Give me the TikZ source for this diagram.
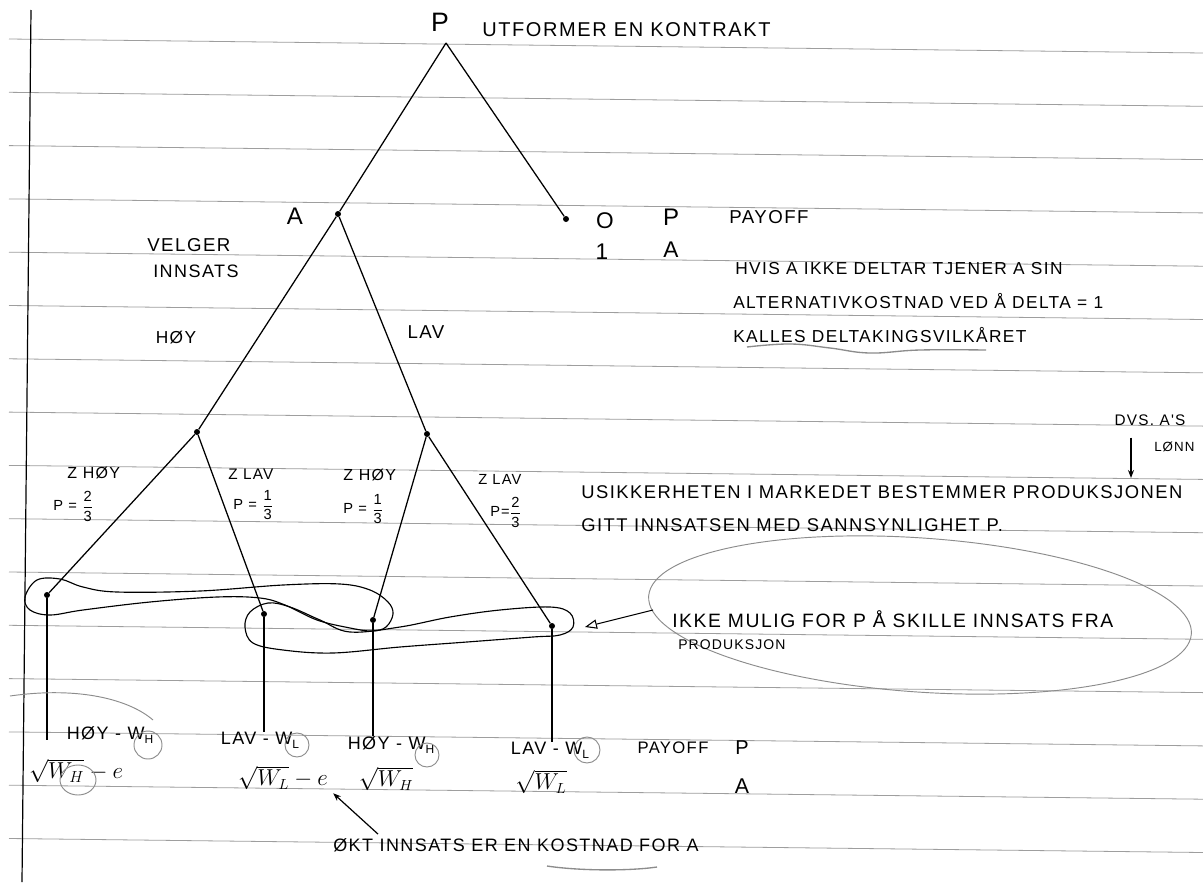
\documentclass[tikz,border=0pt]{standalone}
\usepackage{amsmath}
\usepackage{amssymb}
\usepackage{xcolor}
\usepackage{fontspec}
\usepackage{tikz}
\usetikzlibrary{arrows.meta}
\newfontfamily\hand[LetterSpace=8]{Liberation Sans}
\definecolor{pencil}{gray}{0.55}
\definecolor{ruling}{gray}{0.62}
\newcommand{\lowidx}[1]{\smash{\raisebox{-0.45ex}{\small #1}}}
\newcommand{\hfrac}[2]{$\genfrac{}{}{0.5pt}{0}{\text{#1}}{\text{#2}}$}
\tikzset{
    handtext/.style={inner sep=0pt, font=\hand\fontsize{#1}{#1}\selectfont},
    mathtext/.style={inner sep=0pt, font=\fontsize{#1}{#1}\selectfont},
    gamenode/.style={circle, fill=black, inner sep=0pt, minimum size=4.5pt},
    branch/.style={line width=0.95pt},
    ruleline/.style={draw=ruling, line width=0.6pt},
    pencilline/.style={draw=pencil, line width=0.7pt},
    infoset/.style={line width=0.85pt},
    pointer/.style={line width=0.9pt, -{Stealth[length=6pt, width=4.5pt]}},
    openpointer/.style={line width=0.8pt, -{Triangle[open, length=9pt, width=7pt]}}
}

\begin{document}
\begin{tikzpicture}[x=0.75pt, y=-0.75pt]
            \useasboundingbox (0,0) rectangle (1203,882);
            \fill [white] (0,0) rectangle (1203,882);
            \foreach \i in {0,...,15}
                \draw [ruleline] (9,39+53.3*\i) -- (1203,53+53.3*\i);
            \draw [line width=0.9pt] (31,10) -- (22,882);

            \coordinate (p) at (446,43);
            \node [gamenode] (a) at (338,214) {};
            \node [gamenode] (o) at (566,219) {};
            \node [gamenode] (zh) at (197,432) {};
            \node [gamenode] (zl) at (427,434) {};
            \node [gamenode] (t1) at (47,595) {};
            \node [gamenode] (t2) at (264,614) {};
            \node [gamenode] (t3) at (373,620) {};
            \node [gamenode] (t4) at (552,626) {};
            \draw [branch] (p) -- (a);
            \draw [branch] (p) -- (o);
            \draw [branch] (a) -- (zh);
            \draw [branch] (a) -- (zl);
            \draw [branch] (zh) -- (t1);
            \draw [branch] (zh) -- (t2);
            \draw [branch] (zl) -- (t3);
            \draw [branch] (zl) -- (t4);

            \node [handtext=20] (plab) at (440,22) {P};
            \node [handtext=15, right] (utf) at (482,30) {UTFORMER EN KONTRAKT};
            \node [handtext=18] (alab) at (295,216) {A};
            \node [handtext=14, right] (velger) at (147,245) {VELGER};
            \node [handtext=13.5, right] (innsats) at (153,271) {INNSATS};
            \node [handtext=13] (hoy) at (176,338) {HØY};
            \node [handtext=14] (lav) at (426,332) {LAV};

            \node [handtext=17] (ozero) at (605,221) {O};
            \node [handtext=17] (oone) at (602,252) {1};
            \node [handtext=18] (tp) at (671,217) {P};
            \node [handtext=17] (ta) at (671,250) {A};
            \node [handtext=14, right] (tpay) at (729,217) {PAYOFF};
            \node [handtext=13, right] (hvis) at (735,269) {HVIS A IKKE DELTAR TJENER A SIN};
            \node [handtext=13, right] (alt) at (733,301) {ALTERNATIVKOSTNAD VED Å DELTA = 1};
            \node [handtext=13, right] (kalles) at (733,335) {KALLES DELTAKINGSVILKÅRET};
            \draw [pencilline, line width=1pt] plot [smooth, tension=0.7] coordinates {(747,347) (790,344) (830,348) (870,353) (920,350) (986,350)};

            \node [handtext=11.5] (dvs) at (1150,420) {DVS. A'S};
            \node [handtext=10, right] (lonn) at (1154,447) {LØNN};
            \coordinate (dvstip) at (1131,478);
            \draw [pointer] ([shift={(-19,12)}]dvs.south) -- (dvstip);
            \node [handtext=13.8, right] (usikker) at (581,492) {USIKKERHETEN I MARKEDET BESTEMMER PRODUKSJONEN};
            \node [handtext=13.8, right] (gitt) at (581,525) {GITT INNSATSEN MED SANNSYNLIGHET P.};

            \node [handtext=12, right] (z1) at (67,473) {Z HØY};
            \node [handtext=11, right] (pr1) at (53,506) {P = \hfrac{2}{3}};
            \node [handtext=11.5, right] (z2) at (228,474) {Z LAV};
            \node [handtext=11, right] (pr2) at (233,505) {P = \hfrac{1}{3}};
            \node [handtext=12, right] (z3) at (343,475) {Z HØY};
            \node [handtext=11, right] (pr3) at (343,509) {P = \hfrac{1}{3}};
            \node [handtext=11, right] (z4) at (478,479) {Z LAV};
            \node [handtext=11, right] (pr4) at (490,512) {P=\hfrac{2}{3}};

            \draw [infoset] plot [smooth cycle, tension=0.6] coordinates {(25,597) (37,580) (60,579) (83,587) (117,592) (200,591) (283,585) (340,584) (370,590) (388,602) (393,614) (386,627) (372,631) (350,628) (317,620) (285,605) (260,598) (217,597) (150,602) (83,610) (50,615) (30,610)};
            \draw [infoset] plot [smooth cycle, tension=0.6] coordinates {(268,603) (290,607) (320,620) (350,632) (400,627) (450,617) (500,610) (550,607) (570,613) (573,627) (560,635) (533,637) (467,642) (400,647) (333,653) (283,650) (253,643) (245,627) (250,612)};

            \draw [pencilline] [rotate around={-4:(920,615)}] (920,615) ellipse [x radius=272, y radius=77];
            \node [handtext=14.5, right] (ikke) at (672,619) {IKKE MULIG FOR P Å SKILLE INNSATS FRA};
            \node [handtext=10.5, right] (prod) at (678,645) {PRODUKSJON};
            \draw [openpointer] ([shift={(-19,-9)}]ikke.west) -- ([shift={(33,1)}]t4.center);

            \node [handtext=13.5] (pa1) at (110,733) {HØY - W\lowidx{H}};
            \node [handtext=13.5] (pa2) at (260,738) {LAV - W\lowidx{L}};
            \node [handtext=13.5] (pa3) at (391,743) {HØY - W\lowidx{H}};
            \node [handtext=13.5] (pa4) at (550,748) {LAV - W\lowidx{L}};
            \node [handtext=12.5] (bpay) at (673,748) {PAYOFF};
            \node [handtext=15] (bp) at (742,748) {P};
            \node [mathtext=17] (ma1) at (76,771) {$\sqrt{W_H}-e$};
            \node [mathtext=16] (ma2) at (283,778) {$\sqrt{W_L}-e$};
            \node [mathtext=16] (ma3) at (386,779) {$\sqrt{W_H}$};
            \node [mathtext=16] (ma4) at (541,782) {$\sqrt{W_L}$};
            \node [handtext=16] (ba) at (742,786) {A};
            \draw [branch] (t1) -- (t1 |- pa1.south);
            \draw [branch] (t2) -- (t2 |- pa2.north);
            \draw [branch] (t3) -- (t3 |- pa3.north);
            \draw [branch] (t4) -- (t4 |- pa4.north);

            \draw [pencilline] (148,745) circle [radius=14];
            \draw [pencilline] (297,745) circle [radius=12];
            \draw [pencilline] (427,755) circle [radius=12];
            \draw [pencilline] (587,750) circle [radius=13];
            \draw [pencilline] (78,780) ellipse [x radius=18, y radius=15];
            \draw [pencilline] (10,696) .. controls (80,686) and (130,700) .. (153,720);

            \node [handtext=13.5, right] (okt) at (333,845) {ØKT INNSATS ER EN KOSTNAD FOR A};
            \draw [pointer] ([shift={(45,-4)}]okt.north west) -- ([shift={(5,3)}]ma2.south east);
            \draw [pencilline, line width=1pt] (547,866) .. controls (580,871) and (630,871) .. (657,867);
        \end{tikzpicture}
\end{document}
